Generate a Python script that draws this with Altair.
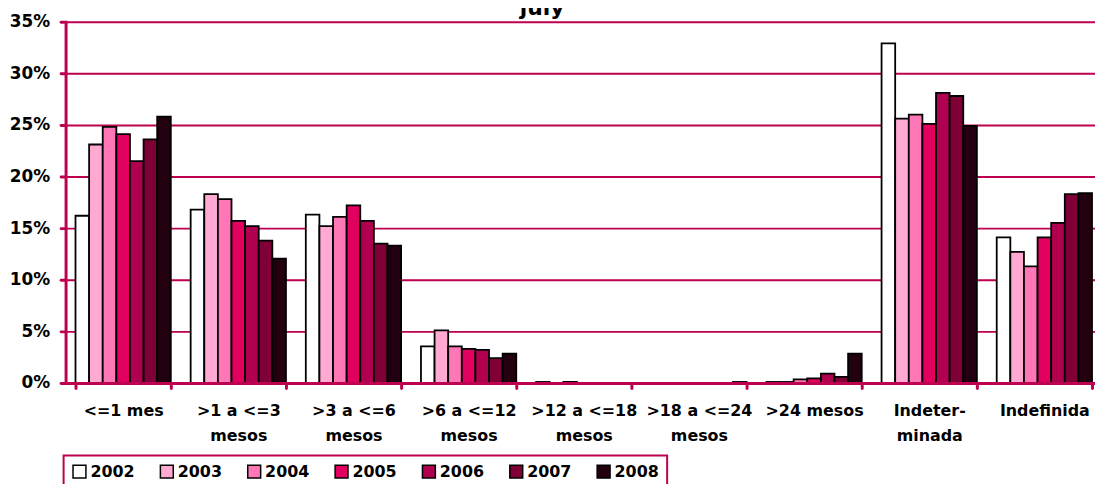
import altair as alt
import pandas as pd

categories = [
    "<=1 mes", ">1 a <=3|mesos", ">3 a <=6|mesos", ">6 a <=12|mesos",
    ">12 a <=18|mesos", ">18 a <=24|mesos", ">24 mesos", "Indeter-|minada", "Indefinida",
]
years = ["2002", "2003", "2004", "2005", "2006", "2007", "2008"]

v2002 = [16.2, 16.8, 16.3, 3.55, 0.1, 0.0, 0.1, 32.9, 14.1]
v2003 = [23.1, 18.3, 15.2, 5.1, 0.0, 0.0, 0.1, 25.6, 12.7]
v2004 = [24.8, 17.8, 16.1, 3.55, 0.1, 0.0, 0.35, 26.0, 11.3]
v2005 = [24.1, 15.7, 17.2, 3.3, 0.0, 0.0, 0.45, 25.1, 14.1]
v2006 = [21.5, 15.2, 15.7, 3.2, 0.0, 0.0, 0.9, 28.1, 15.5]
v2007 = [23.6, 13.8, 13.5, 2.4, 0.0, 0.0, 0.6, 27.8, 18.3]
v2008 = [25.8, 12.05, 13.3, 2.85, 0.0, 0.1, 2.85, 24.9, 18.4]
series = [v2002, v2003, v2004, v2005, v2006, v2007, v2008]

colors = ["#FFFFFF", "#FFA9D3", "#FF77B6", "#E1005F", "#B1004F", "#7E0036", "#22000F"]
y_ticks = [0, 5, 10, 15, 20, 25, 30, 35]
title_text = ["july"]

rows = []
for yr, vals in zip(years, series):
    for c, v in zip(categories, vals):
        rows.append({"cat": c, "year": yr, "value": v})
df = pd.DataFrame(rows)

CRIMSON = "#BE0050"
FONT = "DejaVu Sans"

bars = alt.Chart(df).mark_bar(stroke="black", strokeWidth=1.8).encode(
    x=alt.X(
        "cat:N", sort=categories,
        scale=alt.Scale(range=[0, 1044], paddingInner=0.1724, paddingOuter=0.0862),
        axis=alt.Axis(
            title=None, labelExpr="split(datum.label, '|')", labelAngle=0,
            domainColor=CRIMSON, domainWidth=3, tickColor=CRIMSON, tickWidth=3,
            tickSize=5, tickBand="extent", tickCap="round",
            labelFont=FONT, labelFontSize=16, labelFontWeight="bold", labelColor="black",
            labelPadding=15, labelBaseline="top", labelLineHeight=25,
            labelOverlap=False, labelBound=False, labelLimit=400, zindex=1,
        ),
    ),
    xOffset=alt.XOffset("year:N", sort=years, scale=alt.Scale(paddingInner=0, paddingOuter=0)),
    y=alt.Y(
        "value:Q", scale=alt.Scale(domain=[0, 35], nice=False),
        axis=alt.Axis(
            title=None, values=y_ticks, labelExpr="datum.value + '%'",
            grid=True, gridColor=CRIMSON, gridWidth=2,
            domainColor=CRIMSON, domainWidth=3, domainCap="round",
            tickColor=CRIMSON, tickWidth=3, tickSize=5, tickCap="round",
            labelFont=FONT, labelFontSize=17, labelFontWeight="bold", labelColor="black",
            labelPadding=11,
        ),
    ),
    color=alt.Color(
        "year:N", sort=years, scale=alt.Scale(domain=years, range=colors),
        legend=alt.Legend(
            title=None, orient="none", legendX=-2, legendY=437, direction="horizontal",
            columns=7, symbolType="square", symbolSize=169, symbolStrokeColor="black",
            symbolStrokeWidth=1.5, symbolOpacity=1,
            labelFont=FONT, labelFontSize=16, labelFontWeight="bold", labelColor="black",
            labelOffset=3, columnPadding=22, padding=8, strokeColor=CRIMSON,
        ),
    ),
)

title = alt.Chart(pd.DataFrame({"t": title_text})).mark_text(
    font=FONT, fontSize=22, fontWeight="bold", baseline="alphabetic", align="center", color="black"
).encode(x=alt.value(480), y=alt.value(-7), text="t:N")

chart = alt.layer(bars, title).properties(
    width=1037, height=364,
    autosize=alt.AutoSizeParams(type="none"),
    padding={"left": 58, "top": 12, "right": 0, "bottom": 100},
).configure_view(strokeWidth=0).configure_legend(strokeWidth=2)

chart.save("out.html", embed_options={"renderer": "svg", "actions": False})
